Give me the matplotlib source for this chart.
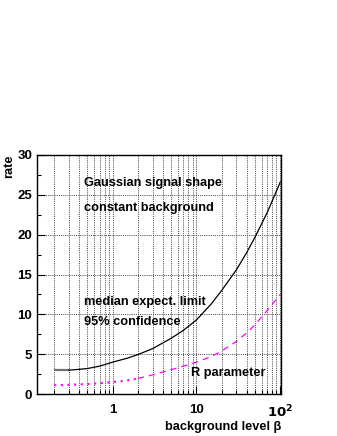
import matplotlib
matplotlib.use("Agg")
import matplotlib.pyplot as plt
from matplotlib.ticker import FixedLocator, FixedFormatter, LogLocator, NullFormatter

plt.rcParams['font.family'] = ['Liberation Sans', 'DejaVu Sans']

# data
beta_flat = [0.2, 0.3]
rate_flat = [3.0, 3.0]
beta_limit = [0.3, 0.4, 0.5, 0.7, 1, 1.5, 2, 3, 5, 7, 10, 15, 20, 30, 40, 50, 70, 100]
rate_limit = [3.0, 3.1, 3.2, 3.5, 4.0, 4.5, 4.95, 5.7, 7.0, 8.0, 9.3, 11.3, 13.0, 15.6, 17.8, 19.7, 22.8, 26.6]
beta_r_dot = [0.2, 0.3, 0.5, 0.7, 1, 1.5, 2]
rate_r_dot = [1.1, 1.15, 1.25, 1.35, 1.5, 1.7, 1.95]
beta_r_dash = [2, 3, 5, 7, 10, 15, 20, 30, 40, 50, 70, 100]
rate_r_dash = [1.95, 2.4, 3.05, 3.5, 4.0, 4.7, 5.4, 6.6, 7.7, 8.7, 10.5, 12.5]

xticks = [1, 10, 100]
xticklabels = ['1', '10', r'$\mathbf{10^{2}}$']
yticks = [0, 5, 10, 15, 20, 25, 30]

fig = plt.figure(figsize=(3.37, 4.36), dpi=100)
ax = fig.add_axes([0.1098, 0.0963, 0.7240, 0.5482])

ax.plot(beta_flat, rate_flat, color='#707070', lw=1.6, solid_capstyle='butt')
ax.plot(beta_limit, rate_limit, color='black', lw=0.9)
ax.plot(beta_r_dot, rate_r_dot, color='#ff00ff', lw=1.5, linestyle=(0, (1, 2.2)))
ax.plot(beta_r_dash, rate_r_dash, color='#ff00ff', lw=0.9, linestyle=(0, (5, 4)))

ax.set_xscale('log')
ax.set_xlim(0.125, 102)
ax.set_ylim(0, 30)

ax.xaxis.set_major_locator(FixedLocator(xticks))
ax.xaxis.set_major_formatter(FixedFormatter(xticklabels))
ax.xaxis.set_minor_locator(LogLocator(base=10, subs=[2, 3, 4, 5, 6, 7, 8, 9]))
ax.xaxis.set_minor_formatter(NullFormatter())
ax.yaxis.set_major_locator(FixedLocator(yticks))
ax.yaxis.set_minor_locator(FixedLocator([2.5, 7.5, 12.5, 17.5, 22.5, 27.5]))

ax.tick_params(which='both', direction='in', top=False, right=False, labelsize=9.5)
ax.tick_params(axis='x', which='both', pad=7)
ax.tick_params(axis='y', which='both', pad=3.5)
ax.tick_params(which='major', length=6, width=0.8)
ax.tick_params(which='minor', length=3, width=0.8)
for lab in ax.get_xticklabels() + ax.get_yticklabels():
    lab.set_fontweight('bold')

gs = dict(color='#444444', linestyle=(0, (1, 1.2)), lw=0.7)
ax.grid(True, which='both', axis='x', **gs)
ax.grid(True, which='major', axis='y', **gs)
for s in ax.spines.values():
    s.set_linewidth(1.0)

tk = dict(fontsize=9.2, fontweight='bold', transform=ax.transAxes, va='center', ha='left')
ax.text(0.193, 0.881, 'Gaussian signal shape', **tk)
ax.text(0.193, 0.780, 'constant background', **tk)
ax.text(0.193, 0.385, 'median expect. limit', **tk)
ax.text(0.193, 0.301, '95% confidence', **tk)
ax.text(0.631, 0.088, 'R parameter', **tk)

fig.text(0.834, 0.006, 'background level β', fontsize=9.2, fontweight='bold', ha='right', va='bottom')
fig.text(0.010, 0.645, 'rate', fontsize=9.2, fontweight='bold', rotation=90, ha='left', va='top')

fig.savefig('out.png', dpi=100)
